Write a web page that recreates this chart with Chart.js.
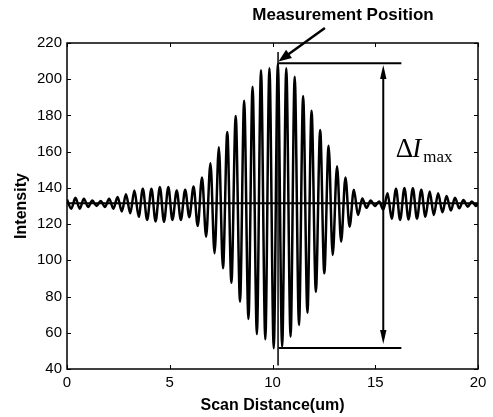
<!DOCTYPE html>
<html>
<head>
<meta charset="utf-8">
<title>Scan intensity</title>
<script src="https://cdn.jsdelivr.net/npm/chart.js@4.4.1/dist/chart.umd.min.js"></script>
<style>
  html, body { margin: 0; padding: 0; background: #fff; }
  #chart { display: block; }
</style>
</head>
<body>
<canvas id="chart" width="493" height="417"></canvas>
<script>
/* ── Fringe extrema (peak, trough, peak, ...) ── */
const scanX = [
  0.00, 0.21, 0.41, 0.62, 0.82, 1.03, 1.23, 1.44, 1.64, 1.85,
  2.05, 2.26, 2.46, 2.67, 2.87, 3.08, 3.28, 3.49, 3.69, 3.90,
  4.11, 4.31, 4.52, 4.72, 4.93, 5.13, 5.34, 5.54, 5.75, 5.95,
  6.16, 6.36, 6.57, 6.77, 6.98, 7.18, 7.39, 7.59, 7.80, 8.00,
  8.21, 8.42, 8.62, 8.83, 9.03, 9.24, 9.44, 9.65, 9.85, 10.06,
  10.26, 10.47, 10.67, 10.88, 11.08, 11.29, 11.49, 11.70, 11.90, 12.11,
  12.32, 12.52, 12.73, 12.93, 13.14, 13.34, 13.55, 13.75, 13.96, 14.16,
  14.37, 14.57, 14.78, 14.98, 15.19, 15.39, 15.60, 15.80, 16.01, 16.21,
  16.42, 16.62, 16.83, 17.03, 17.24, 17.44, 17.65, 17.85, 18.06, 18.27,
  18.47, 18.68, 18.88, 19.09, 19.29, 19.50, 19.70, 19.91, 20.00
];
const intensity = [
  133.5, 128.5, 134.5, 128.5, 134, 129.5, 133, 130, 132.8, 129.5,
  134, 128.5, 135, 127, 136.5, 126, 138.5, 124, 139.5, 122.3,
  139.5, 121.5, 140.5, 121.3, 140.5, 122.3, 138.5, 122.3, 139, 123.8,
  140.7, 119, 145.8, 113, 153.6, 103.9, 162.4, 95.6, 170.9, 87.6,
  179.7, 77.2, 188.1, 67.6, 195.9, 59.3, 205, 56.4, 206, 51.5,
  208.5, 52.3, 206, 57.8, 201.4, 64.3, 190.7, 71, 182.6, 82.7,
  172, 92.8, 163.3, 102.9, 152, 110.3, 145.7, 118.6, 139, 125,
  134.2, 129, 133, 130, 132.5, 128, 137, 123, 139.5, 122.3,
  140, 122.5, 139.8, 123, 139, 124, 138, 125, 137, 126.5,
  135.5, 127.5, 134.5, 128.7, 133.3, 129.6, 132.5, 130, 131.5
];

const xTicks = [0, 5, 10, 15, 20];
const yTicks = [40, 60, 80, 100, 120, 140, 160, 180, 200, 220];

/* ── Markers ── */
const baseline     = 131.5;
const markX        = 10.27;         // measurement position
const markSpan     = [42, 215];
const levelX       = [10.3, 16.27];
const levelMax     = 208.8;
const levelMin     = 51.6;
const deltaArrowX  = 15.39;
const deltaTips    = [207.9, 53.8];
const pointerFrom  = [12.55, 228.3];
const pointerTo    = [10.29, 209.8];
const titlePos     = [13.43, 232.7];
const deltaTextPos = [16.0, 157.0];

const FONT = "'Liberation Sans', Arial, Helvetica, sans-serif";
const SERIF = "'Liberation Serif', 'Times New Roman', serif";

function arrowHead(ctx, tx, ty, fx, fy, len, half) {
  const a = Math.atan2(ty - fy, tx - fx);
  const bx = tx - len * Math.cos(a), by = ty - len * Math.sin(a);
  ctx.beginPath();
  ctx.moveTo(tx, ty);
  ctx.lineTo(bx + half * Math.sin(a), by - half * Math.cos(a));
  ctx.lineTo(bx - half * Math.sin(a), by + half * Math.cos(a));
  ctx.closePath();
  ctx.fill();
}

const frame = {
  id: 'frame',
  afterDatasetsDraw(chart) {
    const { ctx, chartArea: a, scales: { x, y } } = chart;
    ctx.save();
    ctx.strokeStyle = '#000';
    ctx.fillStyle = '#000';

    // box + inward ticks (matlab style)
    ctx.lineWidth = 1.5;
    ctx.strokeRect(a.left, a.top, a.right - a.left, a.bottom - a.top);
    ctx.lineWidth = 1;
    ctx.beginPath();
    yTicks.forEach(v => {
      const py = Math.round(y.getPixelForValue(v)) + 0.5;
      ctx.moveTo(a.left, py);  ctx.lineTo(a.left + 4, py);
      ctx.moveTo(a.right, py); ctx.lineTo(a.right - 4, py);
    });
    xTicks.forEach(v => {
      const px = Math.round(x.getPixelForValue(v)) + 0.5;
      ctx.moveTo(px, a.bottom); ctx.lineTo(px, a.bottom - 4);
      ctx.moveTo(px, a.top);    ctx.lineTo(px, a.top + 4);
    });
    ctx.stroke();

    // delta I double arrow
    const ax = x.getPixelForValue(deltaArrowX);
    const t0 = y.getPixelForValue(deltaTips[0]);
    const t1 = y.getPixelForValue(deltaTips[1]);
    ctx.lineWidth = 2;
    ctx.beginPath();
    ctx.moveTo(ax, t0 + 6); ctx.lineTo(ax, t1 - 6);
    ctx.stroke();
    arrowHead(ctx, ax, t0, ax, t1, 14, 3.2);
    arrowHead(ctx, ax, t1, ax, t0, 14, 3.2);

    // pointer to measurement position
    const p0x = x.getPixelForValue(pointerFrom[0]), p0y = y.getPixelForValue(pointerFrom[1]);
    const p1x = x.getPixelForValue(pointerTo[0]),   p1y = y.getPixelForValue(pointerTo[1]);
    ctx.lineWidth = 2.5;
    ctx.beginPath();
    ctx.moveTo(p0x, p0y);
    ctx.lineTo(p1x + (p0x - p1x) * 0.2, p1y + (p0y - p1y) * 0.2);
    ctx.stroke();
    arrowHead(ctx, p1x, p1y, p0x, p0y, 13, 5);

    // texts
    ctx.textAlign = 'center';
    ctx.textBaseline = 'alphabetic';
    ctx.font = 'bold 17px ' + FONT;
    ctx.fillText('Measurement Position', x.getPixelForValue(titlePos[0]), y.getPixelForValue(titlePos[1]));

    const dx = x.getPixelForValue(deltaTextPos[0]);
    const dy = y.getPixelForValue(deltaTextPos[1]);
    ctx.textAlign = 'left';
    ctx.font = '27px ' + SERIF;
    ctx.fillText('\u0394', dx, dy);
    const w1 = ctx.measureText('\u0394').width;
    ctx.font = 'italic 27px ' + SERIF;
    ctx.fillText('I', dx + w1 - 1, dy);
    const w2 = ctx.measureText('I').width;
    ctx.font = '17px ' + SERIF;
    ctx.fillText('max', dx + w1 + w2 + 1, dy + 5);
    ctx.restore();
  }
};

const line = (pts, w) => ({
  data: pts, borderColor: '#000', borderWidth: w,
  pointRadius: 0, tension: 0, fill: false
});

new Chart(document.getElementById('chart'), {
  type: 'line',
  data: {
    datasets: [
      {
        data: scanX.map((v, i) => ({ x: v, y: intensity[i] })),
        borderColor: '#000',
        borderWidth: 2.5,
        pointRadius: 0,
        cubicInterpolationMode: 'monotone',
        fill: false
      },
      line([{ x: 0, y: baseline }, { x: 20, y: baseline }], 2),
      line([{ x: markX, y: markSpan[0] }, { x: markX, y: markSpan[1] }], 1.5),
      line([{ x: levelX[0], y: levelMax }, { x: levelX[1], y: levelMax }], 2),
      line([{ x: levelX[0], y: levelMin }, { x: levelX[1], y: levelMin }], 2)
    ]
  },
  options: {
    responsive: false,
    animation: false,
    layout: { padding: { top: 43, right: 15, bottom: 0, left: 0 } },
    plugins: { legend: { display: false }, tooltip: { enabled: false } },
    scales: {
      x: {
        type: 'linear', min: 0, max: 20,
        afterBuildTicks: s => { s.ticks = xTicks.map(v => ({ value: v })); },
        afterFit: s => { s.height = 48; },
        grid: { display: false, drawTicks: false },
        border: { display: false },
        ticks: { color: '#000', padding: 5, maxRotation: 0, font: { family: FONT, size: 15 } },
        title: {
          display: true, text: 'Scan Distance(um)', color: '#000',
          font: { family: FONT, size: 16, weight: 'bold' }, padding: { top: 0, bottom: 2 }
        }
      },
      y: {
        type: 'linear', min: 40, max: 220,
        afterBuildTicks: s => { s.ticks = yTicks.map(v => ({ value: v })); },
        afterFit: s => { s.width = 67; },
        grid: { display: false, drawTicks: false },
        border: { display: false },
        ticks: { color: '#000', padding: 5, font: { family: FONT, size: 15 } },
        title: {
          display: true, text: 'Intensity', color: '#000',
          font: { family: FONT, size: 16, weight: 'bold' }, padding: { top: 12, bottom: 0 }
        }
      }
    }
  },
  plugins: [frame]
});
</script>
</body>
</html>
